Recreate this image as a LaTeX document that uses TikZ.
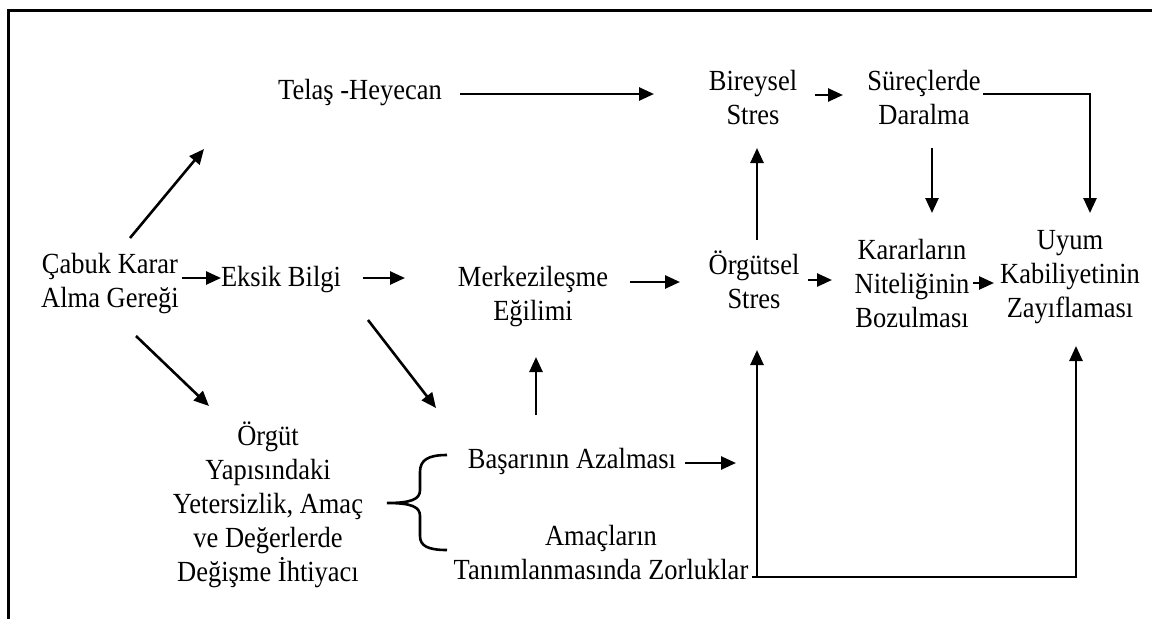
\documentclass[tikz,border=0pt]{standalone}
\usepackage{fontspec}
\setmainfont{Liberation Serif}[FakeStretch=0.907]
\usetikzlibrary{arrows.meta}

\begin{document}
\begin{tikzpicture}[x=1pt,y=-1pt,
  txt/.style={font=\fontsize{29.2}{34}\selectfont, align=center, inner sep=0pt,
    execute at begin node=\strut, execute at end node=\strut},
  arr/.style={line width=2.6pt, -{Triangle[length=15pt,width=13pt]}},
  plain/.style={line width=2.6pt},
  frame/.style={line width=3pt}]
\useasboundingbox (0,0) rectangle (1152,619);

% outer frame (top and left edges)
\draw[frame] (1152,10) -- (8,10) -- (8,619);

% text blocks
\node[txt] (telas)  at (360,92.2)  {Telaş -Heyecan};
\node[txt] (birey)  at (753,102.2) {Bireysel\\Stres};
\node[txt] (surec)  at (924,102.2) {Süreçlerde\\Daralma};
\node[txt] (cabuk)  at (110,285.2) {Çabuk Karar\\Alma Gereği};
\node[txt] (eksik)  at (281,279.2) {Eksik Bilgi};
\node[txt] (merkez) at (533,298.2) {Merkezileşme\\Eğilimi};
\node[txt] (orgst)  at (754,285.2) {Örgütsel\\Stres};
\node[txt] (karar)  at (912,288.2) {Kararların\\Niteliğinin\\Bozulması};
\node[txt] (uyum)   at (1070,279.2) {Uyum\\Kabiliyetinin\\Zayıflaması};
\node[txt] (orgut)  at (268,507.2) {Örgüt\\Yapısındaki\\Yetersizlik, Amaç\\ve Değerlerde\\Değişme İhtiyacı};
\node[txt] (basari) at (572,461.2) {Başarının Azalması};
\node[txt] (amac)   at (601,557.2) {Amaçların\\Tanımlanmasında Zorluklar};

% arrow end points
\coordinate (c1s) at (130,238);  \coordinate (c1e) at (204,149);
\coordinate (c2s) at (136,336);  \coordinate (c2e) at (209,406);
\coordinate (c3s) at (182,278);  \coordinate (c3e) at (221,278);
\coordinate (e1s) at (363,278);  \coordinate (e1e) at (405,278);
\coordinate (e2s) at (368,320);  \coordinate (e2e) at (436,408);
\coordinate (m1s) at (630,282);  \coordinate (m1e) at (680,282);
\coordinate (b1s) at (536,415);  \coordinate (b1e) at (536,357);
\coordinate (o1s) at (757,240);  \coordinate (o1e) at (757,148);
\coordinate (t1s) at (460,94);   \coordinate (t1e) at (654,94);
\coordinate (s1s) at (815,95);   \coordinate (s1e) at (843,95);
\coordinate (d1s) at (983,94);   \coordinate (d1e) at (1090,213);
\coordinate (d2s) at (932,148);  \coordinate (d2e) at (932,213);
\coordinate (o2s) at (808,280);  \coordinate (o2e) at (832,280);
\coordinate (k1s) at (973,283);  \coordinate (k1e) at (994,283);
\coordinate (b2s) at (685,463);  \coordinate (b2e) at (736,463);
\coordinate (zs)  at (752,577);
\coordinate (zo)  at (757,350);
\coordinate (zu)  at (1076,346);

% connectors
\draw[arr] (c1s) -- (c1e);
\draw[arr] (c2s) -- (c2e);
\draw[arr] (c3s) -- (c3e);
\draw[arr] (e1s) -- (e1e);
\draw[arr] (e2s) -- (e2e);
\draw[arr] (m1s) -- (m1e);
\draw[arr] (b1s) -- (b1e);
\draw[arr] (o1s) -- (o1e);
\draw[arr] (t1s) -- (t1e);
\draw[arr] (s1s) -- (s1e);
\draw[arr] (d1s) -| (d1e);
\draw[arr] (d2s) -- (d2e);
\draw[arr] (o2s) -- (o2e);
\draw[arr] (k1s) -- (k1e);
\draw[arr] (b2s) -- (b2e);
\draw[arr] (zs) -| (zo);
\draw[arr] (zs) -| (zu);

% brace joining the two consequences
\draw[plain] (447,455) .. controls (428,455) and (420,460) .. (420,472)
  -- (420,490) .. controls (420,499) and (412,503) .. (387,503)
  .. controls (412,503) and (420,507) .. (420,516)
  -- (420,536) .. controls (420,546) and (428,550) .. (447,550);
\end{tikzpicture}
\end{document}
